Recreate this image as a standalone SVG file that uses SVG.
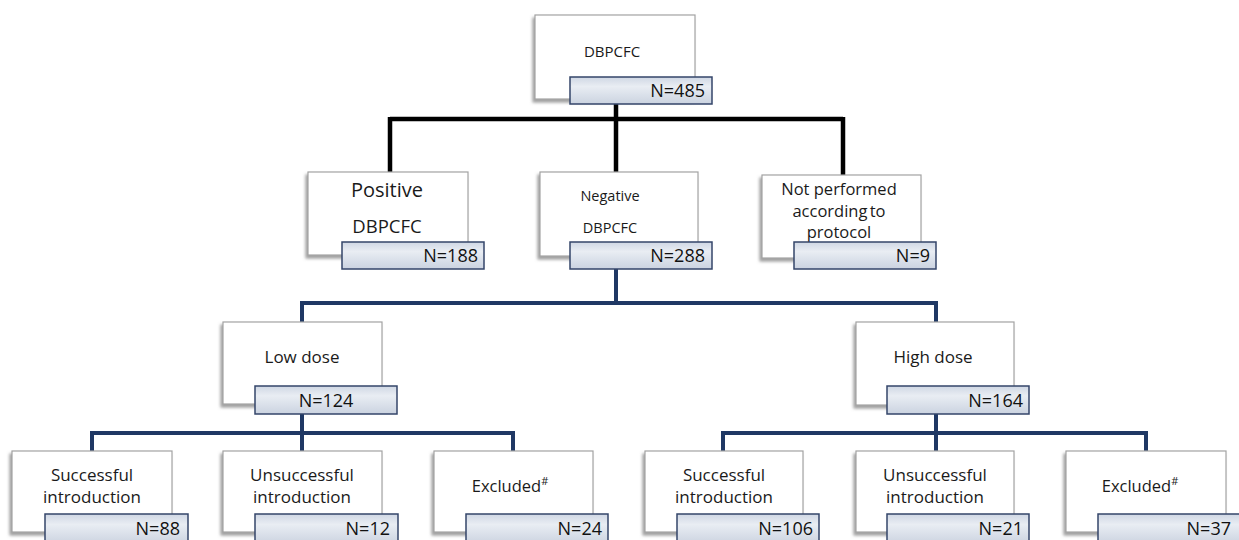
<svg xmlns="http://www.w3.org/2000/svg" width="1239" height="540" viewBox="0 0 1239 540">
<defs>
<linearGradient id="lg" x1="0" y1="0" x2="0" y2="1">
<stop offset="0" stop-color="#cfd7e4"/>
<stop offset="0.35" stop-color="#e9edf3"/>
<stop offset="0.6" stop-color="#dde3ec"/>
<stop offset="1" stop-color="#cbd3e0"/>
</linearGradient>
<filter id="sh" x="-10%" y="-10%" width="120%" height="130%">
<feDropShadow dx="-2" dy="3" stdDeviation="1.5" flood-color="#777" flood-opacity="0.7"/>
</filter>
</defs>
<style>
.box{fill:#fff;stroke:#a3a3a3;stroke-width:1.2;filter:url(#sh)}
.lab{fill:url(#lg);stroke:#34456a;stroke-width:1.5}
.t{font-family:"Open Sans","Noto Sans",sans-serif;fill:#1a1a1a;text-anchor:middle}
.n{font-family:"Open Sans","Noto Sans",sans-serif;fill:#111;font-size:18px;text-anchor:end}
.blk{stroke:#000;stroke-width:4.5;fill:none}
.blu{stroke:#1f3864;stroke-width:4;fill:none}
</style>
<rect width="1239" height="540" fill="#fff"/>
<g id="connectors">
<path class="blk" d="M616 104V119M390 119H843M390 117V172M616 119V172M843 117V175"/>
<path class="blu" d="M616 269V303M302 303H937M302 301V322M936 301V322"/>
<path class="blu" d="M302 414V433M92 433H513M92 431V451M302 433V451M513 431V451"/>
<path class="blu" d="M936 414V433M723 433H1146M723 431V451M936 433V451M1146 431V451"/>
</g>
<g id="n-dbpcfc">
<rect class="box" x="535" y="15" width="160" height="84"/>
<text class="t" x="612" y="57" font-size="15">DBPCFC</text>
<rect class="lab" x="570" y="77" width="142" height="27"/>
<text class="n" x="705" y="97">N=485</text>
</g>
<g id="n-positive">
<rect class="box" x="308" y="172" width="160" height="83"/>
<text class="t" x="387" y="197" font-size="20">Positive</text>
<text class="t" x="387" y="233" font-size="18.5">DBPCFC</text>
<rect class="lab" x="342" y="242" width="142" height="27"/>
<text class="n" x="478" y="262">N=188</text>
</g>
<g id="n-negative">
<rect class="box" x="540" y="172" width="158" height="84"/>
<text class="t" x="610" y="201" font-size="14.5">Negative</text>
<text class="t" x="610" y="233" font-size="14.5">DBPCFC</text>
<rect class="lab" x="570" y="242" width="142" height="27"/>
<text class="n" x="705" y="262">N=288</text>
</g>
<g id="n-notperformed">
<rect class="box" x="762" y="175" width="159" height="83"/>
<text class="t" x="839" y="195" font-size="16.5">Not performed</text>
<text class="t" x="839" y="217" font-size="16.5" word-spacing="-2">according to</text>
<text class="t" x="839" y="238" font-size="16.5">protocol</text>
<rect class="lab" x="794" y="242" width="142" height="27"/>
<text class="n" x="930" y="262" font-size="16">N=9</text>
</g>
<g id="n-lowdose">
<rect class="box" x="223" y="322" width="159" height="82"/>
<text class="t" x="302" y="363" font-size="17">Low dose</text>
<rect class="lab" x="255" y="386" width="142" height="28"/>
<text class="n" x="326" y="407" style="text-anchor:middle">N=124</text>
</g>
<g id="n-highdose">
<rect class="box" x="856" y="322" width="158" height="83"/>
<text class="t" x="933" y="363" font-size="17">High dose</text>
<rect class="lab" x="887" y="386" width="142" height="28"/>
<text class="n" x="1023" y="407">N=164</text>
</g>
<g id="n-low-success">
<rect class="box" x="12" y="451" width="160" height="81"/>
<text class="t" x="92" y="481" font-size="17">Successful</text>
<text class="t" x="92" y="503" font-size="17">introduction</text>
<rect class="lab" x="45" y="514" width="143" height="30"/>
<text class="n" x="180" y="535">N=88</text>
</g>
<g id="n-low-unsuccess">
<rect class="box" x="223" y="451" width="159" height="81"/>
<text class="t" x="302" y="481" font-size="17">Unsuccessful</text>
<text class="t" x="302" y="503" font-size="17">introduction</text>
<rect class="lab" x="255" y="514" width="143" height="30"/>
<text class="n" x="390" y="535">N=12</text>
</g>
<g id="n-low-excluded">
<rect class="box" x="434" y="451" width="159" height="81"/>
<text class="t" x="510" y="492" font-size="16.5">Excluded<tspan font-size="11" dy="-7">#</tspan></text>
<rect class="lab" x="466" y="514" width="142" height="30"/>
<text class="n" x="602" y="535">N=24</text>
</g>
<g id="n-high-success">
<rect class="box" x="645" y="451" width="158" height="81"/>
<text class="t" x="724" y="481" font-size="17">Successful</text>
<text class="t" x="724" y="503" font-size="17">introduction</text>
<rect class="lab" x="677" y="514" width="142" height="30"/>
<text class="n" x="813" y="535">N=106</text>
</g>
<g id="n-high-unsuccess">
<rect class="box" x="856" y="451" width="158" height="81"/>
<text class="t" x="935" y="481" font-size="17">Unsuccessful</text>
<text class="t" x="935" y="503" font-size="17">introduction</text>
<rect class="lab" x="887" y="514" width="142" height="30"/>
<text class="n" x="1023" y="535">N=21</text>
</g>
<g id="n-high-excluded">
<rect class="box" x="1066" y="451" width="160" height="81"/>
<text class="t" x="1140" y="492" font-size="16.5">Excluded<tspan font-size="11" dy="-7">#</tspan></text>
<rect class="lab" x="1098" y="514" width="142" height="30"/>
<text class="n" x="1231" y="535">N=37</text>
</g>
</svg>
